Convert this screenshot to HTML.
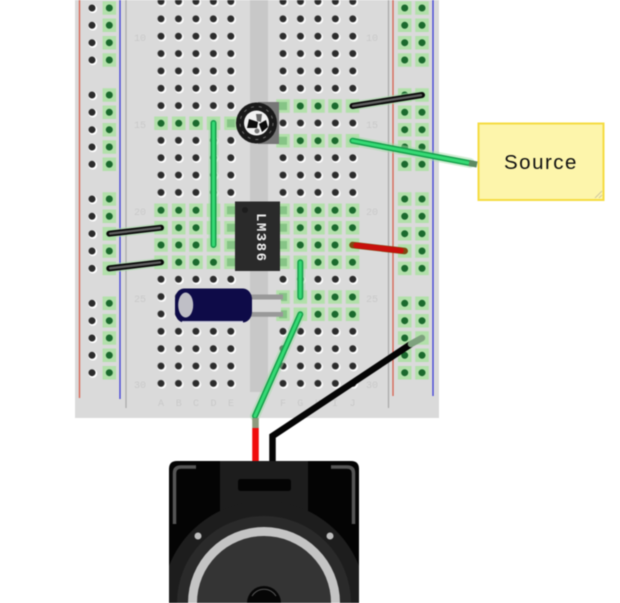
<!DOCTYPE html>
<html><head><meta charset="utf-8"><style>
html,body{margin:0;padding:0;background:#fff;width:620px;height:603px;overflow:hidden}
svg{display:block;overflow:hidden}
.b{filter:blur(.6px)}
.lab{font-family:"Liberation Mono",monospace;font-size:10px;fill:#c9c9c9;text-anchor:middle}
</style></head><body>
<svg width="620" height="603" viewBox="0 0 620 603" xmlns="http://www.w3.org/2000/svg">
<defs>
<pattern id="h" x="152.3" y="-7.2" width="17.45" height="17.36" patternUnits="userSpaceOnUse">
<circle cx="9.5" cy="9.5" r="4.4" fill="#ffffff"/><circle cx="8.72" cy="8.68" r="3.5" fill="#2c2c2c"/>
</pattern>
<clipPath id="sp"><path d="M169 603V469Q169 461 177 461H351Q359 461 359 469V603Z"/></clipPath>
</defs>
<g class="b">
<rect x="75" y="0" width="364" height="418" fill="#dadada"/>
<rect x="250" y="0" width="18" height="392" fill="#c8c8c8"/>
<!-- rail lines -->
<path d="M79.500 0V398" stroke="#d8604e" stroke-width="1.300" fill="none"/>
<path d="M120 0V399" stroke="#3c3cd8" stroke-width="1.300" fill="none"/>
<path d="M126 0V408M388.500 0V408" stroke="#a8a8a8" stroke-width="1.200" fill="none"/>
<path d="M393 0V396" stroke="#d8604e" stroke-width="1.300" fill="none"/>
<path d="M433 0V396" stroke="#3c3cd8" stroke-width="1.300" fill="none"/>
<!-- holes -->
<rect x="152.3" y="0" width="87.25" height="392" fill="url(#h)"/>
<g transform="translate(122 0)"><rect x="152.3" y="0" width="87.25" height="392" fill="url(#h)"/></g>
<!-- left rail dark -->
<path d="M92.800 8.800h.01M92.800 26.100h.01M92.800 43.500h.01M92.800 60.800h.01M92.800 95.800h.01M92.800 113.100h.01M92.800 130.500h.01M92.800 147.800h.01M92.800 165.100h.01M92.800 199.800h.01M92.800 217.100h.01M92.800 234.500h.01M92.800 251.800h.01M92.800 269.200h.01M92.800 304.100h.01M92.800 321.500h.01M92.800 338.800h.01M92.800 356.100h.01M92.800 373.500h.01" stroke="#ffffff" stroke-width="8.800" stroke-linecap="round" fill="none"/>
<path d="M92 8h.01M92 25.300h.01M92 42.700h.01M92 60h.01M92 95h.01M92 112.300h.01M92 129.700h.01M92 147h.01M92 164.300h.01M92 199h.01M92 216.300h.01M92 233.700h.01M92 251h.01M92 268.400h.01M92 303.300h.01M92 320.700h.01M92 338h.01M92 355.300h.01M92 372.700h.01" stroke="#2c2c2c" stroke-width="7" stroke-linecap="round" fill="none"/>
<!-- green connected holes -->
<g fill="none">
<path stroke="#b2e0aa" stroke-width="13.500" stroke-linecap="square" d="
M109.300 8h.01M109.300 25.300h.01M109.300 42.700h.01M109.300 60h.01M109.300 95h.01M109.300 112.300h.01M109.300 129.700h.01M109.300 147h.01M109.300 164.300h.01M109.300 199h.01M109.300 216.300h.01M109.300 233.700h.01M109.300 251h.01M109.300 268.400h.01M109.300 303.300h.01M109.300 320.700h.01M109.300 338h.01M109.300 355.300h.01M109.300 372.700h.01
M404.700 8h.01M422 8h.01M404.700 25.300h.01M422 25.300h.01M404.700 42.700h.01M422 42.700h.01M404.700 60h.01M422 60h.01
M404.700 95h.01M422 95h.01M404.700 112.300h.01M422 112.300h.01M404.700 129.700h.01M422 129.700h.01M404.700 147h.01M422 147h.01M404.700 164.300h.01M422 164.300h.01
M404.700 199h.01M422 199h.01M404.700 216.300h.01M422 216.300h.01M404.700 233.700h.01M422 233.700h.01M404.700 251h.01M422 251h.01M404.700 268.400h.01M422 268.400h.01
M404.700 303.300h.01M422 303.300h.01M404.700 320.700h.01M422 320.700h.01M404.700 338h.01M422 338h.01M404.700 355.300h.01M422 355.300h.01M404.700 372.700h.01M422 372.700h.01
M161 123.300h.01M178.700 123.300h.01M196 123.300h.01M213.500 123.300h.01M231 123.300h.01
M283 106h.01M300.300 106h.01M318 106h.01M335 106h.01M352.500 106h.01
M283 140.700h.01M300.300 140.700h.01M318 140.700h.01M335 140.700h.01M352.500 140.700h.01
M161 210.300h.01M178.700 210.300h.01M196 210.300h.01M213.500 210.300h.01M231 210.300h.01
M161 227.700h.01M178.700 227.700h.01M196 227.700h.01M213.500 227.700h.01M231 227.700h.01
M161 245h.01M178.700 245h.01M196 245h.01M213.500 245h.01M231 245h.01
M161 262.300h.01M178.700 262.300h.01M196 262.300h.01M213.500 262.300h.01M231 262.300h.01
M283 210.300h.01M300.300 210.300h.01M318 210.300h.01M335 210.300h.01M352.500 210.300h.01
M283 227.700h.01M300.300 227.700h.01M318 227.700h.01M335 227.700h.01M352.500 227.700h.01
M283 245h.01M300.300 245h.01M318 245h.01M335 245h.01M352.500 245h.01
M283 262.300h.01M300.300 262.300h.01M318 262.300h.01M335 262.300h.01M352.500 262.300h.01
M283 297h.01M300.300 297h.01M318 297h.01M335 297h.01M352.500 297h.01
M283 314.300h.01M300.300 314.300h.01M318 314.300h.01M335 314.300h.01M352.500 314.300h.01"/>
<path stroke="#1b6a2e" stroke-width="7" stroke-linecap="round" d="
M109.300 8h.01M109.300 25.300h.01M109.300 42.700h.01M109.300 60h.01M109.300 95h.01M109.300 112.300h.01M109.300 129.700h.01M109.300 147h.01M109.300 164.300h.01M109.300 199h.01M109.300 216.300h.01M109.300 251h.01M109.300 303.300h.01M109.300 320.700h.01M109.300 338h.01M109.300 355.300h.01M109.300 372.700h.01
M404.700 8h.01M422 8h.01M404.700 25.300h.01M422 25.300h.01M404.700 42.700h.01M422 42.700h.01M404.700 60h.01M422 60h.01
M404.700 95h.01M404.700 112.300h.01M422 112.300h.01M404.700 129.700h.01M422 129.700h.01M404.700 147h.01M422 147h.01M404.700 164.300h.01M422 164.300h.01
M404.700 199h.01M422 199h.01M404.700 216.300h.01M422 216.300h.01M404.700 233.700h.01M422 233.700h.01M422 251h.01M404.700 268.400h.01M422 268.400h.01
M404.700 303.300h.01M422 303.300h.01M404.700 320.700h.01M422 320.700h.01M404.700 338h.01M404.700 355.300h.01M422 355.300h.01M404.700 372.700h.01M422 372.700h.01
M161 123.300h.01M178.700 123.300h.01M196 123.300h.01
M300.300 106h.01M318 106h.01M335 106h.01
M300.300 140.700h.01M318 140.700h.01M335 140.700h.01
M161 210.300h.01M178.700 210.300h.01M196 210.300h.01
M178.700 227.700h.01M196 227.700h.01
M161 245h.01M178.700 245h.01M196 245h.01
M178.700 262.300h.01M196 262.300h.01M213.500 262.300h.01
M300.300 210.300h.01M318 210.300h.01M335 210.300h.01M352.500 210.300h.01
M300.300 227.700h.01M318 227.700h.01M335 227.700h.01M352.500 227.700h.01
M300.300 245h.01M318 245h.01M335 245h.01
M318 262.300h.01M335 262.300h.01M352.500 262.300h.01
M318 297h.01M335 297h.01M352.500 297h.01
M318 314.300h.01M335 314.300h.01M352.500 314.300h.01"/>
<!-- component pins -->
<path stroke="#86c486" stroke-width="8" stroke-linecap="square" d="M231 123.300h.01M283 106h.01M283 140.700h.01M231 210.300h.01M231 227.700h.01M231 245h.01M231 262.300h.01M283 210.300h.01M283 227.700h.01M283 245h.01M283 262.300h.01M283 297h.01M283 314.300h.01"/>
</g>
<!-- labels -->
<text class="lab" x="140" y="41">10</text><text class="lab" x="140" y="128">15</text><text class="lab" x="140" y="215">20</text><text class="lab" x="140" y="302">25</text><text class="lab" x="140" y="388">30</text>
<text class="lab" x="372" y="41">10</text><text class="lab" x="372" y="128">15</text><text class="lab" x="372" y="215">20</text><text class="lab" x="372" y="302">25</text><text class="lab" x="372" y="388">30</text>
<text class="lab" x="161" y="406">A</text><text class="lab" x="178.700" y="406">B</text><text class="lab" x="196" y="406">C</text><text class="lab" x="213.500" y="406">D</text><text class="lab" x="231" y="406">E</text>
<text class="lab" x="283" y="406">F</text><text class="lab" x="300.300" y="406">G</text><text class="lab" x="318" y="406">H</text><text class="lab" x="335" y="406">I</text><text class="lab" x="352.500" y="406">J</text>
<!-- potentiometer -->
<rect x="258" y="102" width="21" height="42" fill="#777"/>
<circle cx="256.500" cy="123" r="20.500" fill="#1a1a1a"/>
<circle cx="256.500" cy="123" r="16.500" fill="none" stroke="#6a6a6a" stroke-width="1" stroke-dasharray="3 5"/>
<circle cx="256.500" cy="123" r="12.500" fill="#f2f2f2"/>
<path d="M249 119L258 122L257 128L247 128Z" fill="#0c0c0c"/>
<path d="M256 114L262 114L261 122L257 121Z" fill="#666"/>
<path d="M259 124L266 120L268 127L262 132Z" fill="#0c0c0c"/>
<circle cx="257" cy="131" r="2.500" fill="#777"/>
<!-- IC -->
<rect x="235" y="201.500" width="45" height="69.500" fill="#2a2a2a"/>
<circle cx="245" cy="210" r="3" fill="#1d1d1d"/>
<text x="0" y="0" transform="translate(257 213) rotate(90)" font-family="'Liberation Mono',monospace" font-size="14" font-weight="bold" letter-spacing="1.500" fill="#ececec">LM386</text>
<!-- capacitor -->
<path d="M251 297H283M251 314.300H283" stroke="#999" stroke-width="5" fill="none"/>
<rect x="251" y="299.500" width="30" height="12.500" fill="#d8d8d8"/>
<rect x="175" y="288.500" width="77" height="34" rx="9" ry="11" fill="#0e0b48"/>
<path d="M182 322H243" stroke="#f4f4f8" stroke-width="2" opacity=".8" fill="none"/>
<ellipse cx="185.700" cy="305" rx="7.500" ry="12.500" fill="#bfbfc6"/>
<!-- note -->
<rect x="478.500" y="123.500" width="125" height="76.500" fill="#fdf5ab" stroke="#f5dc42" stroke-width="2"/>
<path d="M595 198L602 191M599 198L602 195" stroke="#cfc9a0" stroke-width="1" fill="none"/>
<text x="504" y="169" font-family="'Liberation Sans',sans-serif" font-size="20.500" letter-spacing="1.500" fill="#111">Source</text>
<!-- wires -->
<g fill="none" stroke-linecap="round" stroke-linejoin="round">
<g stroke="#9fdca6" stroke-width="10" opacity=".5">
<path d="M213.500 123V245M300.300 262.300V297M352.500 140.700L470 163M300.300 314.300L255 416"/>
</g>
<!-- black jumpers -->
<path d="M109.300 233.700L161 227.700M109.300 268.400L161 262.300M352.500 106L422 95" stroke="#a8dca8" stroke-width="9" opacity=".6"/>
<path d="M109.300 233.700L161 227.700M109.300 268.400L161 262.300M352.500 106L422 95" stroke="#0a0a0a" stroke-width="6"/>
<path d="M110 233.600L160 227.800M110 268.300L160 262.400M353 105.900L421 95.100" stroke="#606060" stroke-width="2.300"/>
<!-- red jumper -->
<path d="M352.500 245L404.700 251" stroke="#7d4a10" stroke-width="6.500"/>
<path d="M356 245.400L401 250.600" stroke="#c8100c" stroke-width="5.500"/>
<!-- green jumpers -->
<path d="M213.500 123V245M300.300 262.300V297M352.500 140.700L472 163.600M300.300 314.300L255 416" stroke="#16a04c" stroke-width="6"/>
<path d="M213.500 123V245M300.300 262.300V297M352.500 140.700L472 163.600M300.300 314.300L255 416" stroke="#35da74" stroke-width="3"/>
<path d="M469 163L477 164.500" stroke="#5c8a62" stroke-width="6" stroke-linecap="butt"/>
<!-- speaker leads -->
<path d="M255.500 418V428" stroke="#8d9a7d" stroke-width="6.500" stroke-linecap="butt"/>
<path d="M255.500 428V461" stroke="#f00d0d" stroke-width="6.500" stroke-linecap="butt"/>
<path d="M272.500 461V436L411 344" stroke="#050505" stroke-width="6.500" stroke-linecap="butt" stroke-linejoin="miter"/>
<path d="M411 344L422 338" stroke="#7ea27e" stroke-width="6.500" stroke-linecap="round"/>
</g>
<!-- speaker -->
<path d="M169 603V469Q169 461 177 461H351Q359 461 359 469V603Z" fill="#040404"/>
<g clip-path="url(#sp)">
<rect x="220" y="461" width="88" height="60" fill="#1d1d1d"/>
<path d="M162 603A102 102 0 0 1 366 603Z" fill="#1d1d1d"/>
<path d="M177 603A87 87 0 0 1 351 603Z" fill="#2a2a2a"/>
<path d="M188 603A76 76 0 0 1 340 603Z" fill="#c4c4c4"/>
<path d="M197 603A67 67 0 0 1 331 603Z" fill="#343434"/>
<path d="M247 603A17 17 0 0 1 281 603Z" fill="#060606"/>
<path d="M252 596A14 14 0 0 1 276 596" stroke="#555" stroke-width="1" fill="none"/>
</g>
<rect x="238" y="479" width="53" height="12" rx="2.500" fill="#040404"/>
<circle cx="198" cy="536" r="3.500" fill="#bdbdbd"/><circle cx="330" cy="536" r="3.500" fill="#bdbdbd"/>
<path d="M196 467H181Q174.500 467 174.500 473V524" stroke="#555" stroke-width="3.500" fill="none"/>
<path d="M331 467H347Q353.500 467 353.500 473V524" stroke="#555" stroke-width="3.500" fill="none"/>
</g>
</svg>
</body></html>
